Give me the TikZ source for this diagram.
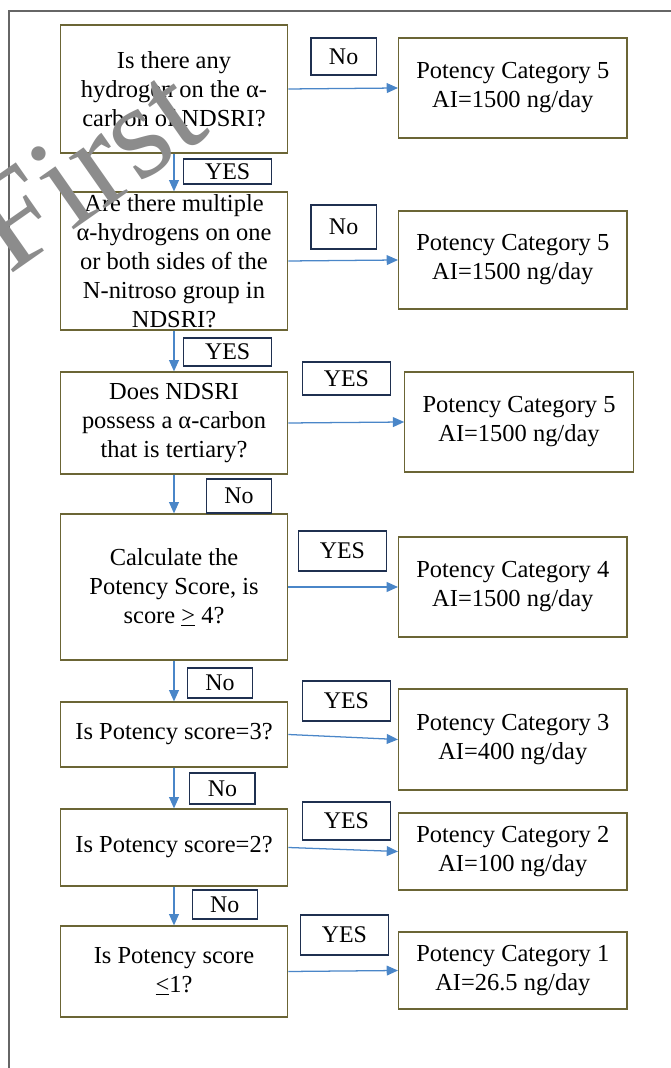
\documentclass[tikz,border=0pt]{standalone}
\usepackage{fontspec}
\setmainfont{Liberation Serif}
\usetikzlibrary{arrows.meta}
\definecolor{boxline}{HTML}{6B6535}
\definecolor{tagline}{HTML}{1F3050}
\definecolor{flowblue}{HTML}{4A86C8}
\definecolor{framegray}{HTML}{666666}
\definecolor{markgray}{HTML}{8C8C8C}
\tikzset{
    qbox/.style={draw=boxline, line width=0.9pt, align=center, minimum width=5.69cm, inner xsep=2pt, inner ysep=0pt},
    rbox/.style={qbox, minimum width=5.71cm},
    tag/.style={draw=tagline, line width=0.9pt, inner sep=0pt, font=\fontsize{17}{20}\selectfont},
    notag/.style={tag, minimum width=1.63cm},
    yestag/.style={tag, minimum width=2.19cm},
    flow/.style={draw=flowblue, line width=0.9pt, -{Triangle[length=8pt,width=7pt]}}
}
\begin{document}
\begin{tikzpicture}[every node/.style={font=\fontsize{17.4}{20.6}\selectfont}]
                \useasboundingbox (0,0) rectangle (16.775,26.7);
                \clip (0,0) rectangle (16.775,26.7);
                \draw [framegray, line width=1pt] (16.775,26.425) -- (0.225,26.425) -- (0.225,0);
                % questions
                \node [qbox, minimum height=3.2cm] (q1) at (4.35,24.475) {Is there any\\hydrogen on the α-\\carbon of NDSRI?};
                \node [qbox, minimum height=3.45cm] (q2) at (4.35,20.175) {Are there multiple\\α-hydrogens on one\\or both sides of the\\N-nitroso group in\\NDSRI?};
                \node [qbox, minimum height=2.55cm] (q3) at (4.35,16.125) {Does NDSRI\\possess a α-carbon\\that is tertiary?};
                \node [qbox, minimum height=3.65cm] (q4) at (4.35,12.025) {Calculate the\\Potency Score, is\\score \underline{>} 4?};
                \node [qbox, minimum height=1.625cm] (q5) at (4.35,8.3375) {Is Potency score=3?};
                \node [qbox, minimum height=1.925cm] (q6) at (4.35,5.5125) {Is Potency score=2?};
                \node [qbox, minimum height=2.275cm] (q7) at (4.35,2.4125) {Is Potency score\\\underline{<}1?};
                % results
                \node [rbox, minimum height=2.5cm] (r1) at (12.82,24.5) {Potency Category 5\\AI=1500 ng/day};
                \node [rbox, minimum height=2.45cm] (r2) at (12.82,20.2) {Potency Category 5\\AI=1500 ng/day};
                \node [rbox, minimum height=2.5cm] (r3) at (12.975,16.15) {Potency Category 5\\AI=1500 ng/day};
                \node [rbox, minimum height=2.5cm] (r4) at (12.82,12.025) {Potency Category 4\\AI=1500 ng/day};
                \node [rbox, minimum height=2.525cm] (r5) at (12.82,8.2125) {Potency Category 3\\AI=400 ng/day};
                \node [rbox, minimum height=1.925cm] (r6) at (12.82,5.4125) {Potency Category 2\\AI=100 ng/day};
                \node [rbox, minimum height=1.925cm] (r7) at (12.82,2.4375) {Potency Category 1\\AI=26.5 ng/day};
                % answers
                \node [notag, minimum height=0.925cm] (no1) at (8.59,25.2875) {No};
                \node [yestag, minimum height=0.625cm] (yes1) at (5.69,22.4125) {YES};
                \node [notag, minimum height=1.1cm] (no2) at (8.59,21.025) {No};
                \node [yestag, minimum height=0.7cm] (yes2) at (5.69,17.9) {YES};
                \node [yestag, minimum height=0.825cm] (yes3) at (8.66,17.2375) {YES};
                \node [notag, minimum height=0.85cm] (no3) at (5.975,14.3) {No};
                \node [yestag, minimum height=1cm] (yes4) at (8.56,12.925) {YES};
                \node [notag, minimum height=0.75cm] (no4) at (5.5,9.625) {No};
                \node [yestag, minimum height=1cm] (yes5) at (8.66,9.175) {YES};
                \node [notag, minimum height=0.775cm] (no5) at (5.56,6.9875) {No};
                \node [yestag, minimum height=0.95cm] (yes6) at (8.66,6.175) {YES};
                \node [notag, minimum height=0.725cm] (no6) at (5.62,4.0875) {No};
                \node [yestag, minimum height=1cm] (yes7) at (8.61,3.325) {YES};
                % arrows
                \foreach \i in {1,...,7}
                    \draw [flow] (q\i.east) -- (r\i.west);
                \foreach \i/\j in {1/2,2/3,3/4,4/5,5/6,6/7}
                    \draw [flow] (q\i.south) -- (q\j.north);
                % watermark
                \node [rotate=35, inner sep=0pt, text=markgray, font=\fontsize{96}{96}\selectfont] (wmark) at (2.15,22.5) {First};
            \end{tikzpicture}
\end{document}
